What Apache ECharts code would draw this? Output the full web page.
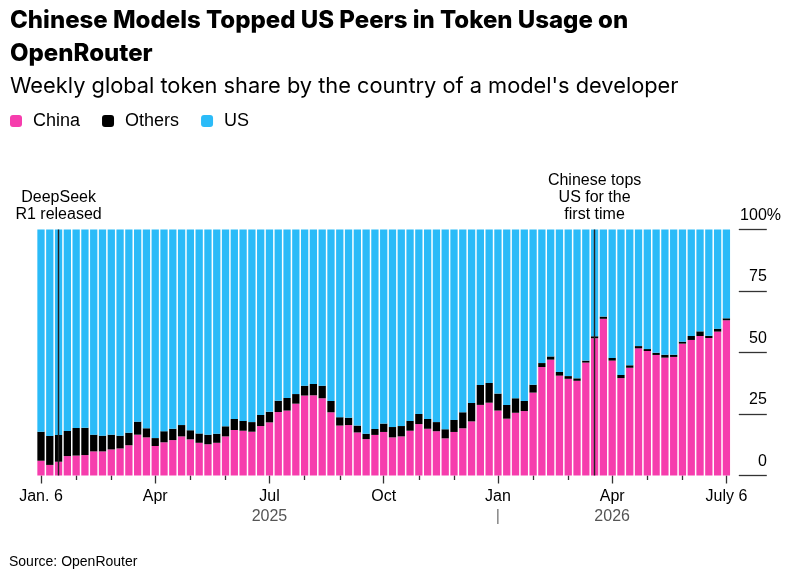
<!DOCTYPE html>
<html><head><meta charset="utf-8">
<script src="https://cdn.jsdelivr.net/npm/echarts@6/dist/echarts.min.js"></script>
<style>html,body{margin:0;padding:0;background:#fff}#c{width:806px;height:574px}</style>
</head><body><div id="c"></div>
<script>
// Weekly categories: Jan 6, 2025 through July 6, 2026
const weeks = [];
const startMs = Date.UTC(2025, 0, 6);
for (let i = 0; i < 79; i++) weeks.push(new Date(startMs + i * 7 * 864e5).toISOString().slice(0, 10));

const china = [6.0,4.3,5.6,7.9,8.1,8.3,9.8,9.8,10.6,11.0,12.3,16.6,15.5,12.0,13.5,14.4,15.9,14.7,13.3,12.7,
  13.3,15.9,18.5,18.2,17.8,20.1,21.6,25.8,26.4,29.2,32.5,32.6,31.4,25.7,20.3,20.5,17.5,14.8,16.5,17.7,
  15.5,15.9,18.2,20.9,19.0,18.0,15.1,17.7,19.2,22.0,28.7,29.6,26.4,23.1,25.5,26.2,33.7,44.1,47.1,40.6,
  39.3,38.5,45.9,55.8,63.7,46.7,39.6,43.8,51.7,50.6,49.0,47.9,48.2,53.6,55.1,56.7,55.9,58.5,63.1];
const others = [11.8,11.8,10.9,10.2,11.2,11.1,6.8,6.4,6.0,5.2,5.1,5.3,3.7,3.2,4.5,4.6,4.6,3.7,3.8,3.9,
  3.7,4.1,4.5,4.0,3.9,4.5,4.3,4.6,5.1,3.9,4.0,4.6,5.1,4.6,3.4,3.0,2.8,2.2,2.4,3.4,
  4.2,4.2,4.0,4.1,4.0,3.7,3.7,4.9,6.5,7.5,8.1,8.0,6.9,5.6,5.9,4.1,3.2,1.6,1.3,1.5,
  1.1,1.0,0.8,0.8,0.9,1.1,1.3,1.0,0.9,0.8,0.9,1.2,0.9,0.8,1.6,1.9,0.9,1.2,0.8];
const us = [82.2,83.9,83.5,81.9,80.7,80.6,83.4,83.8,83.4,83.8,82.6,78.1,80.8,84.8,82.0,81.0,79.5,81.6,82.9,83.4,
  83.0,80.0,77.0,77.8,78.3,75.4,74.1,69.6,68.5,66.9,63.5,62.8,63.5,69.7,76.3,76.5,79.7,83.0,81.1,78.9,
  80.3,79.9,77.8,75.0,77.0,78.3,81.2,77.4,74.3,70.5,63.2,62.4,66.7,71.3,68.6,69.7,63.1,54.3,51.6,57.9,
  59.6,60.5,53.3,43.4,35.4,52.2,59.1,55.2,47.4,48.6,50.1,50.9,50.9,45.6,43.3,41.4,43.2,40.3,36.1];

const majorTickIdx = [0, 13, 26, 39, 52, 65, 78];
const majorTickLabels = ['Jan. 6', 'Apr', 'Jul', 'Oct', 'Jan', 'Apr', 'July 6'];
const minorTickIdx = [4, 8, 17, 21, 30, 34, 43, 47, 56, 60, 69, 73];
const yearIdx = [26, 65];
const yearLabels = ['2025', '2026'];
const yearSeparatorIdx = 52;
const annotationIdx = [2, 63];
const annotationText = ['DeepSeek\nR1 released', 'Chinese tops\nUS for the\nfirst time'];

const FONT = '"Liberation Sans", Arial, Helvetica, sans-serif';
const HEAD_FONT = 'Inter, "Liberation Sans", Arial, sans-serif';
const PINK = '#F63DAD', BLACK = '#000000', BLUE = '#2BBBF8';

const chart = echarts.init(document.getElementById('c'), null, {renderer: 'canvas'});
chart.setOption({
  animation: false,
  textStyle: {fontFamily: FONT},
  title: [
    {text: 'Chinese Models Topped US Peers in Token Usage on\nOpenRouter', left: 10, top: 4.5, padding: 0,
      textStyle: {fontSize: 24, fontWeight: 800, color: '#000', lineHeight: 33, fontFamily: HEAD_FONT}},
    {text: "Weekly global token share by the country of a model's developer", left: 10, top: 74, padding: 0,
      textStyle: {fontSize: 21.8, fontWeight: 'normal', color: '#000', lineHeight: 24, fontFamily: HEAD_FONT}},
    {text: 'Source: OpenRouter', left: 9, top: 554, padding: 0,
      textStyle: {fontSize: 14, fontWeight: 'normal', color: '#000', lineHeight: 16, fontFamily: FONT}}
  ],
  legend: {
    data: ['China', 'Others', 'US'], left: 10, top: 112, padding: 0,
    itemWidth: 12, itemHeight: 12, itemGap: 22, icon: 'roundRect',
    textStyle: {fontSize: 18, color: '#000', lineHeight: 18, padding: [0, 0, 0, 6], fontFamily: FONT}
  },
  grid: {left: 36.6, right: 75.2, top: 229.5, bottom: 98.5, containLabel: false},
  xAxis: [
    {
      type: 'category', data: weeks, position: 'bottom',
      axisLine: {show: false},
      axisTick: {show: true, alignWithLabel: true, length: 8,
        interval: (i) => majorTickIdx.includes(i), lineStyle: {color: '#333', width: 1.3}},
      axisLabel: {
        interval: (i) => majorTickIdx.includes(i), margin: 11,
        formatter: (v, i) => {
          const k = majorTickIdx.indexOf(i);
          let s = '{m|' + majorTickLabels[k] + '}';
          const y = yearIdx.indexOf(i);
          if (y >= 0) s += '\n{y|' + yearLabels[y] + '}';
          if (i === yearSeparatorIdx) s += '\n{s||}';
          return s;
        },
        rich: {
          m: {fontSize: 16, color: '#000', lineHeight: 20, fontFamily: FONT},
          y: {fontSize: 16, color: '#555', lineHeight: 20, fontFamily: FONT},
          s: {fontSize: 16, color: '#777', lineHeight: 20, fontFamily: FONT}
        }
      }
    },
    {
      type: 'category', data: weeks, position: 'top', offset: -246,
      axisLine: {show: false},
      axisTick: {show: true, inside: true, alignWithLabel: true, length: 4.5,
        interval: (i) => minorTickIdx.includes(i), lineStyle: {color: '#333', width: 1.3}},
      axisLabel: {show: false}
    }
  ],
  yAxis: {
    type: 'value', min: 0, max: 100, interval: 25, position: 'right', offset: 8,
    axisLine: {show: false}, splitLine: {show: false},
    axisTick: {show: true, length: 28, lineStyle: {color: '#333', width: 1.3}},
    axisLabel: {
      margin: 42.2, align: 'right', verticalAlign: 'bottom', padding: [0, 0, 6, 0],
      formatter: (v) => v === 100 ? '{n|100%}' : '{n|' + v + '}{g|}',
      rich: {
        n: {fontSize: 16, color: '#000', lineHeight: 16, fontFamily: FONT},
        g: {fontSize: 16, lineHeight: 16, width: 14.2}
      }
    }
  },
  series: [
    {
      name: 'China', type: 'bar', stack: 'share', data: china, barCategoryGap: '17%',
      itemStyle: {color: PINK}, silent: true,
      markLine: {
        symbol: ['none', 'none'], silent: true, animation: false,
        lineStyle: {color: '#222', width: 1.4, type: 'solid'},
        label: {show: true, position: 'end', distance: 6, color: '#000', fontSize: 16, lineHeight: 17.3, fontFamily: FONT},
        data: annotationIdx.map((idx, k) => [
          {coord: [weeks[idx], 0], label: {formatter: annotationText[k]}},
          {coord: [weeks[idx], 100]}
        ])
      }
    },
    {name: 'Others', type: 'bar', stack: 'share', data: others, itemStyle: {color: BLACK}, silent: true},
    {name: 'US', type: 'bar', stack: 'share', data: us, itemStyle: {color: BLUE}, silent: true}
  ]
});
</script></body></html>
